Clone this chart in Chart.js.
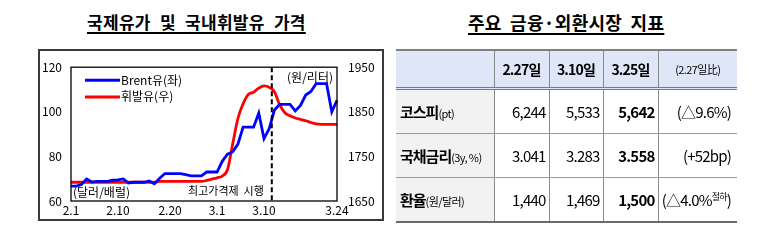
<!DOCTYPE html>
<html>
<head>
<meta charset="utf-8">
<script src="https://cdn.jsdelivr.net/npm/chart.js@4.4.1/dist/chart.umd.min.js"></script>
<style>
  body { margin: 0; background: #fff; font-family: "Noto Sans CJK KR", "Noto Sans", sans-serif; color: #000; }
  .title { position: absolute; top: 9px; font-size: 17px; font-weight: bold; text-decoration: underline;
           text-decoration-thickness: 1.5px; text-underline-offset: 3px; white-space: nowrap; letter-spacing: 0.3px; }
  #box { position: absolute; left: 38px; top: 49px; width: 346px; height: 172px; }
  #boxline { position: absolute; left: 38px; top: 49px; width: 346px; height: 172px; box-sizing: border-box;
             border: 2px solid #3a3a3a; pointer-events: none; }
  table { position: absolute; left: 396px; top: 49px; width: 341px; border-collapse: collapse; table-layout: fixed; }
  td { padding: 0; font-size: 15px; letter-spacing: -0.8px; }
  tr.head td { background: #dfe6f8; height: 36px; text-align: center; font-weight: bold; font-size: 14px;
               border-top: 2px solid #808080; border-bottom: 3px double #7a7a7a; }
  tr.head td.small { font-size: 11px; font-weight: normal; letter-spacing: -0.6px; }
  tr.row td { height: 43px; text-align: right; padding-right: 3px; border-bottom: 1px solid #9a9a9a; }
  tr.row:last-child td { border-bottom: 2px solid #6a6a6a; }
  td + td { border-left: 1px solid #8a8a8a; }
  tr.row td.lab { background: #f2f2f2; text-align: left; padding-left: 4px; font-weight: bold; letter-spacing: -1px; }
  .unit { font-size: 11px; font-weight: normal; letter-spacing: -0.6px; }
  tr.row td.b { font-weight: bold; }
  tr.row td.chg { padding-right: 6px; }
  sup { font-size: 9px; vertical-align: 6px; }
</style>
</head>
<body>
<div class="title" style="left:87px; word-spacing:5px">국제유가 및 국내휘발유 가격</div>
<div class="title" style="left:468px; font-size:18px; word-spacing:4px">주요 금융·외환시장 지표</div>

<div id="box"><canvas id="oil" width="346" height="172"></canvas></div>
<div id="boxline"></div>

<table id="tbl"></table>

<script>
// 날짜 (일별)
var dates = ["2.1","2.2","2.3","2.4","2.5","2.6","2.7","2.8","2.9","2.10",
  "2.11","2.12","2.13","2.14","2.15","2.16","2.17","2.18","2.19","2.20",
  "2.21","2.22","2.23","2.24","2.25","2.26","2.27","2.28",
  "3.1","3.2","3.3","3.4","3.5","3.6","3.7","3.8","3.9","3.10",
  "3.11","3.12","3.13","3.14","3.15","3.16","3.17","3.18","3.19","3.20",
  "3.21","3.22","3.23","3.24"];
var shownTicks = ["2.1","2.10","2.20","3.1","3.10","3.24"];

// Brent유 (달러/배럴, 좌축)
var brent = [66.7,66.7,67.4,69.9,68.5,68.8,68.8,68.8,69.3,69.5,
  69.9,68.1,68.4,68.4,68.4,69.0,67.7,70.2,72.3,72.3,
  72.3,72.3,71.8,71.3,71.3,71.3,73.0,73.0,
  73.0,77.8,81.0,82.0,85.5,93.1,93.1,93.1,99.4,88.0,
  92.4,100.8,103.3,103.3,103.3,100.4,102.9,107.5,109.1,112.6,
  112.6,112.6,100.0,105.2];

// 휘발유 (원/리터, 우축)
var gasoline = [1692,1692,1692,1692,1692,1692,1692,1692,1692,1692,
  1692,1692,1692,1692,1692,1692,1692,1694,1694,1694,
  1694,1694,1694,1694,1694,1694,1696,1699,
  1702,1706,1720,1778,1835,1868,1889,1894,1903,1908,
  1905,1895,1866,1848,1841,1836,1833,1830,1826,1823,
  1822,1822,1822,1822];

// 최고가격제 시행 시점 (x축 인덱스)
var capIndex = 38.5;

// 표
var tableDates = ["2.27일", "3.10일", "3.25일"];
var rowNames = ["코스피", "국채금리", "환율"];
var rowUnits = ["(pt)", "(3y, %)", "(원/달러)"];
var kospi = ["6,244", "5,533", "5,642"];
var bond = ["3.041", "3.283", "3.558"];
var fx = ["1,440", "1,469", "1,500"];
var changes = ["(△9.6%)", "(+52bp)", "(△4.0%<sup>절하</sup>)"];

var FONT = '"Noto Sans CJK KR", "Noto Sans", sans-serif';

var extras = {
  id: 'extras',
  afterDatasetsDraw: function(chart) {
    var ctx = chart.ctx, a = chart.chartArea, x = chart.scales.x;
    ctx.save();
    ctx.strokeStyle = '#000';
    ctx.lineWidth = 1.3;
    ctx.strokeRect(a.left, a.top, a.right - a.left, a.bottom - a.top);

    var px = x.getPixelForValue(capIndex);
    ctx.setLineDash([5, 3]);
    ctx.lineWidth = 2;
    ctx.beginPath();
    ctx.moveTo(px, a.top);
    ctx.lineTo(px, a.bottom);
    ctx.stroke();
    ctx.setLineDash([]);

    ctx.font = '12px ' + FONT;
    ctx.textBaseline = 'middle';
    chart.data.datasets.forEach(function(ds, i) {
      var y = a.top + 13 + i * 16.7;
      ctx.strokeStyle = ds.borderColor;
      ctx.lineWidth = 3;
      ctx.beginPath();
      ctx.moveTo(a.left + 14, y);
      ctx.lineTo(a.left + 49, y);
      ctx.stroke();
      ctx.fillStyle = '#000';
      ctx.textAlign = 'left';
      ctx.fillText(ds.label, a.left + 50, y);
    });

    ctx.fillStyle = '#000';
    ctx.textAlign = 'left';
    ctx.fillText('(달러/배럴)', a.left + 2, a.bottom - 9);
    ctx.textAlign = 'right';
    ctx.fillText('(원/리터)', a.right - 4, a.top + 10.5);
    ctx.font = '11px ' + FONT;
    ctx.fillText('최고가격제  시행', px - 8, a.bottom - 10);
    ctx.restore();
  }
};

new Chart("oil", {
  type: "line",
  data: {
    labels: dates,
    datasets: [{
      label: "Brent유(좌)",
      data: brent,
      borderColor: "#0000ff",
      borderWidth: 2.8,
      pointRadius: 0,
      tension: 0,
      yAxisID: "y"
    }, {
      label: "휘발유(우)",
      data: gasoline,
      borderColor: "#ff0000",
      borderWidth: 2.8,
      pointRadius: 0,
      cubicInterpolationMode: "monotone",
      yAxisID: "y1"
    }]
  },
  options: {
    responsive: false,
    animation: false,
    layout: {padding: {top: 8, left: 0, right: 0, bottom: 0}},
    plugins: {legend: {display: false}, tooltip: {enabled: false}},
    scales: {
      x: {
        offset: false,
        grid: {display: false, drawTicks: false},
        border: {display: false},
        afterFit: function(s) { s.height = 20; },
        ticks: {
          autoSkip: false, maxRotation: 0, padding: 2, color: '#000',
          font: {size: 12, family: FONT},
          callback: function(v) { var l = this.getLabelForValue(v); return shownTicks.indexOf(l) >= 0 ? l : null; }
        }
      },
      y: {
        position: "left", min: 60, max: 120,
        grid: {display: false, drawTicks: false},
        border: {display: false},
        afterFit: function(s) { s.width = 33; },
        ticks: {stepSize: 20, padding: 9, color: '#000', font: {size: 12, family: FONT}}
      },
      y1: {
        position: "right", min: 1650, max: 1950,
        grid: {display: false, drawTicks: false},
        border: {display: false},
        afterFit: function(s) { s.width = 47; },
        ticks: {
          stepSize: 100, padding: 11, color: '#000', font: {size: 12, family: FONT},
          callback: function(v) { return String(v); }
        }
      }
    }
  },
  plugins: [extras]
});

// 표 만들기
var vals = [kospi, bond, fx];
var html = '<colgroup><col style="width:98px"><col style="width:55px"><col style="width:54px"><col style="width:55px"><col style="width:79px"></colgroup>';
html += '<tr class="head"><td></td>';
tableDates.forEach(function(d) { html += '<td>' + d + '</td>'; });
html += '<td class="small">(2.27일比)</td></tr>';
rowNames.forEach(function(n, i) {
  html += '<tr class="row"><td class="lab">' + n + '<span class="unit">' + rowUnits[i] + '</span></td>';
  html += '<td>' + vals[i][0] + '</td><td>' + vals[i][1] + '</td><td class="b">' + vals[i][2] + '</td>';
  html += '<td class="chg">' + changes[i] + '</td></tr>';
});
document.getElementById('tbl').innerHTML = html;
</script>
</body>
</html>
